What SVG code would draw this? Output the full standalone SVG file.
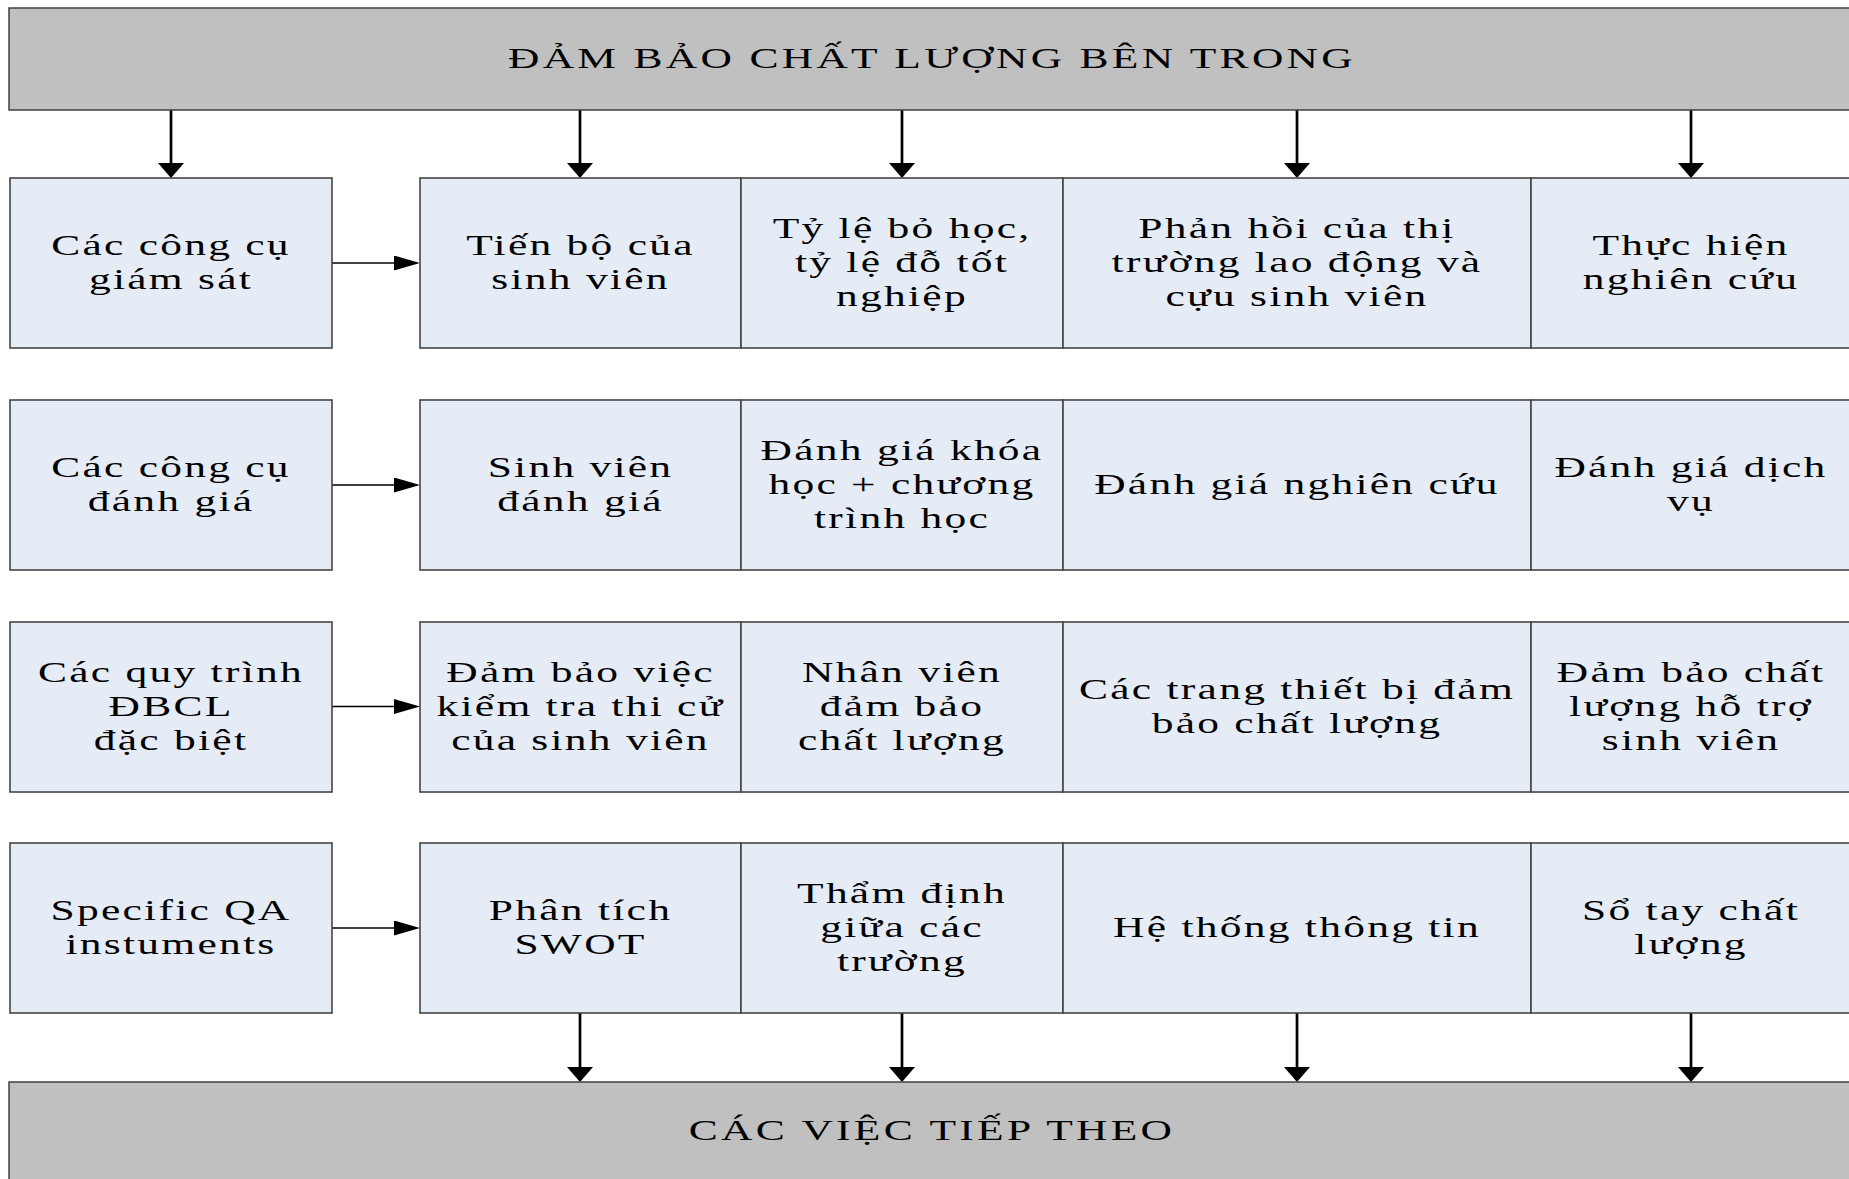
<svg xmlns="http://www.w3.org/2000/svg" width="1849" height="1179" viewBox="0 0 1849 1179">
<style>
.bar{fill:#c0c0c0;stroke:#404040;stroke-width:1.5}
.box{fill:#e6ecf6;stroke:#454545;stroke-width:1.6}
.t{font-family:"Liberation Serif","DejaVu Serif",serif;font-size:29px;fill:#000;text-anchor:middle;letter-spacing:1.5px}
.tt{letter-spacing:2.2px}
.v{stroke:#000;stroke-width:2.7;fill:none}
.h{stroke:#000;stroke-width:1.6;fill:none}
</style>
<defs>
<marker id="ad" markerUnits="userSpaceOnUse" markerWidth="16" markerHeight="26" refX="5" refY="13" orient="auto" viewBox="0 0 16 26">
<path d="M0,0 L15,13 L0,26 z" fill="#000"/>
</marker>
<marker id="ah" markerUnits="userSpaceOnUse" markerWidth="26" markerHeight="16" refX="16" refY="7.5" orient="auto" viewBox="0 0 26 16">
<path d="M0,0 L26,7.5 L0,15 z" fill="#000"/>
</marker>
</defs>
<rect width="1849" height="1179" fill="#fff"/>

<g id="connectors">
<path class="v" d="M171,110 V168" marker-end="url(#ad)"/>
<path class="v" d="M580,110 V168" marker-end="url(#ad)"/>
<path class="v" d="M902,110 V168" marker-end="url(#ad)"/>
<path class="v" d="M1297,110 V168" marker-end="url(#ad)"/>
<path class="v" d="M1691,110 V168" marker-end="url(#ad)"/>
<path class="h" d="M332,263 H410" marker-end="url(#ah)"/>
<path class="h" d="M332,485 H410" marker-end="url(#ah)"/>
<path class="h" d="M332,706.5 H410" marker-end="url(#ah)"/>
<path class="h" d="M332,928 H410" marker-end="url(#ah)"/>
<path class="v" d="M580,1013 V1072" marker-end="url(#ad)"/>
<path class="v" d="M902,1013 V1072" marker-end="url(#ad)"/>
<path class="v" d="M1297,1013 V1072" marker-end="url(#ad)"/>
<path class="v" d="M1691,1013 V1072" marker-end="url(#ad)"/>
</g>

<g id="top">
<rect class="bar" x="9" y="8" width="1848" height="102"/>
<text class="t tt" transform="translate(932,0) scale(1.5,1)"><tspan x="0" y="68">ĐẢM BẢO CHẤT LƯỢNG BÊN TRONG</tspan></text>
</g>
<g id="bottom">
<rect class="bar" x="9" y="1082" width="1848" height="104"/>
<text class="t tt" transform="translate(932,0) scale(1.5,1)"><tspan x="0" y="1140">CÁC VIỆC TIẾP THEO</tspan></text>
</g>

<!-- Row 1 -->
<g id="r1-left">
<rect class="box" x="10" y="178" width="322" height="170"/>
<text class="t" transform="translate(171,0) scale(1.5,1)"><tspan x="0" y="255.5">Các công cụ</tspan><tspan x="0" y="289.5">giám sát</tspan></text>
</g>
<g id="r1-c1">
<rect class="box" x="420" y="178" width="321" height="170"/>
<text class="t" transform="translate(580.5,0) scale(1.5,1)"><tspan x="0" y="255.5">Tiến bộ của</tspan><tspan x="0" y="289.5">sinh viên</tspan></text>
</g>
<g id="r1-c2">
<rect class="box" x="741" y="178" width="322" height="170"/>
<text class="t" transform="translate(902,0) scale(1.5,1)"><tspan x="0" y="238.5">Tỷ lệ bỏ học,</tspan><tspan x="0" y="272.5">tỷ lệ đỗ tốt</tspan><tspan x="0" y="306.5">nghiệp</tspan></text>
</g>
<g id="r1-c3">
<rect class="box" x="1063" y="178" width="468" height="170"/>
<text class="t" transform="translate(1297,0) scale(1.5,1)"><tspan x="0" y="238.5">Phản hồi của thị</tspan><tspan x="0" y="272.5">trường lao động và</tspan><tspan x="0" y="306.5">cựu sinh viên</tspan></text>
</g>
<g id="r1-c4">
<rect class="box" x="1531" y="178" width="326" height="170"/>
<text class="t" transform="translate(1691,0) scale(1.5,1)"><tspan x="0" y="255.5">Thực hiện</tspan><tspan x="0" y="289.5">nghiên cứu</tspan></text>
</g>

<!-- Row 2 -->
<g id="r2-left">
<rect class="box" x="10" y="400" width="322" height="170"/>
<text class="t" transform="translate(171,0) scale(1.5,1)"><tspan x="0" y="477.5">Các công cụ</tspan><tspan x="0" y="511.5">đánh giá</tspan></text>
</g>
<g id="r2-c1">
<rect class="box" x="420" y="400" width="321" height="170"/>
<text class="t" transform="translate(580.5,0) scale(1.5,1)"><tspan x="0" y="477.5">Sinh viên</tspan><tspan x="0" y="511.5">đánh giá</tspan></text>
</g>
<g id="r2-c2">
<rect class="box" x="741" y="400" width="322" height="170"/>
<text class="t" transform="translate(902,0) scale(1.5,1)"><tspan x="0" y="460.5">Đánh giá khóa</tspan><tspan x="0" y="494.5">học + chương</tspan><tspan x="0" y="528.5">trình học</tspan></text>
</g>
<g id="r2-c3">
<rect class="box" x="1063" y="400" width="468" height="170"/>
<text class="t" transform="translate(1297,0) scale(1.5,1)"><tspan x="0" y="494.5">Đánh giá nghiên cứu</tspan></text>
</g>
<g id="r2-c4">
<rect class="box" x="1531" y="400" width="326" height="170"/>
<text class="t" transform="translate(1691,0) scale(1.5,1)"><tspan x="0" y="477.5">Đánh giá dịch</tspan><tspan x="0" y="511.5">vụ</tspan></text>
</g>

<!-- Row 3 -->
<g id="r3-left">
<rect class="box" x="10" y="622" width="322" height="170"/>
<text class="t" transform="translate(171,0) scale(1.5,1)"><tspan x="0" y="682">Các quy trình</tspan><tspan x="0" y="716">ĐBCL</tspan><tspan x="0" y="750">đặc biệt</tspan></text>
</g>
<g id="r3-c1">
<rect class="box" x="420" y="622" width="321" height="170"/>
<text class="t" transform="translate(580.5,0) scale(1.5,1)"><tspan x="0" y="682">Đảm bảo việc</tspan><tspan x="0" y="716">kiểm tra thi cử</tspan><tspan x="0" y="750">của sinh viên</tspan></text>
</g>
<g id="r3-c2">
<rect class="box" x="741" y="622" width="322" height="170"/>
<text class="t" transform="translate(902,0) scale(1.5,1)"><tspan x="0" y="682">Nhân viên</tspan><tspan x="0" y="716">đảm bảo</tspan><tspan x="0" y="750">chất lượng</tspan></text>
</g>
<g id="r3-c3">
<rect class="box" x="1063" y="622" width="468" height="170"/>
<text class="t" transform="translate(1297,0) scale(1.5,1)"><tspan x="0" y="699">Các trang thiết bị đảm</tspan><tspan x="0" y="733">bảo chất lượng</tspan></text>
</g>
<g id="r3-c4">
<rect class="box" x="1531" y="622" width="326" height="170"/>
<text class="t" transform="translate(1691,0) scale(1.5,1)"><tspan x="0" y="682">Đảm bảo chất</tspan><tspan x="0" y="716">lượng hỗ trợ</tspan><tspan x="0" y="750">sinh viên</tspan></text>
</g>

<!-- Row 4 -->
<g id="r4-left">
<rect class="box" x="10" y="843" width="322" height="170"/>
<text class="t" transform="translate(171,0) scale(1.5,1)"><tspan x="0" y="920.5">Specific QA</tspan><tspan x="0" y="954.5">instuments</tspan></text>
</g>
<g id="r4-c1">
<rect class="box" x="420" y="843" width="321" height="170"/>
<text class="t" transform="translate(580.5,0) scale(1.5,1)"><tspan x="0" y="920.5">Phân tích</tspan><tspan x="0" y="954.5">SWOT</tspan></text>
</g>
<g id="r4-c2">
<rect class="box" x="741" y="843" width="322" height="170"/>
<text class="t" transform="translate(902,0) scale(1.5,1)"><tspan x="0" y="903.5">Thẩm định</tspan><tspan x="0" y="937.5">giữa các</tspan><tspan x="0" y="971.5">trường</tspan></text>
</g>
<g id="r4-c3">
<rect class="box" x="1063" y="843" width="468" height="170"/>
<text class="t" transform="translate(1297,0) scale(1.5,1)"><tspan x="0" y="937.5">Hệ thống thông tin</tspan></text>
</g>
<g id="r4-c4">
<rect class="box" x="1531" y="843" width="326" height="170"/>
<text class="t" transform="translate(1691,0) scale(1.5,1)"><tspan x="0" y="920.5">Sổ tay chất</tspan><tspan x="0" y="954.5">lượng</tspan></text>
</g>
</svg>
